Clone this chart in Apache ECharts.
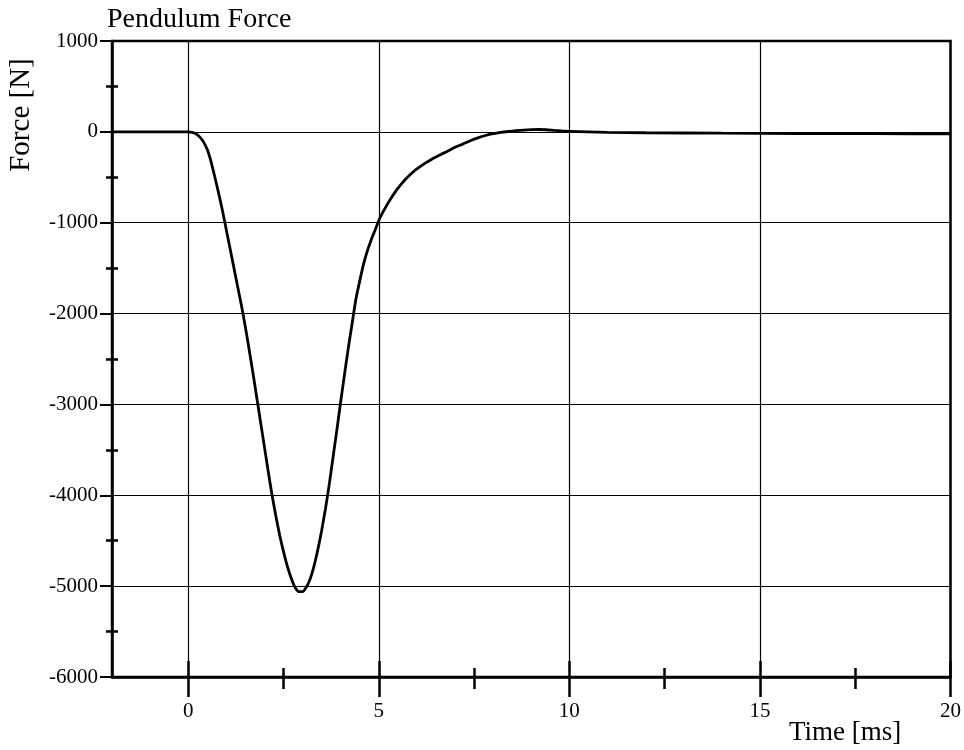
<!DOCTYPE html>
<html>
<head>
<meta charset="utf-8">
<title>Pendulum Force</title>
<script src="https://cdn.jsdelivr.net/npm/echarts@6/dist/echarts.min.js"></script>
<style>
  html, body { margin: 0; padding: 0; background: #fff; }
  #chart { width: 964px; height: 750px; }
</style>
</head>
<body>
<div id="chart"></div>
<script>
// Measured pendulum force over time
const timeMs = [-2, -1, 0, 0.1, 0.2, 0.3, 0.4, 0.5, 0.6, 0.7, 0.8, 0.9, 1.0, 1.1, 1.2, 1.3, 1.4,
  1.5, 1.6, 1.7, 1.8, 1.9, 2.0, 2.1, 2.2, 2.3, 2.4, 2.5, 2.6, 2.7, 2.8, 2.9, 3.0, 3.1, 3.2,
  3.3, 3.4, 3.5, 3.6, 3.7, 3.8, 3.9, 4.0, 4.1, 4.2, 4.3, 4.4, 4.5, 4.6, 4.7, 4.8, 4.9, 5.0,
  5.1, 5.2, 5.3, 5.4, 5.5, 5.6, 5.7, 5.8, 5.9, 6.0, 6.2, 6.4, 6.6, 6.8, 7.0, 7.2, 7.4, 7.6,
  7.8, 8.0, 8.2, 8.4, 8.6, 8.8, 9.0, 9.2, 9.4, 9.6, 9.8, 10, 11, 12, 14, 16, 18, 20];
const forceN = [0, 0, 0, -5, -20, -55, -110, -195, -330, -500, -680, -870, -1080, -1290, -1500, -1710, -1920,
  -2150, -2400, -2660, -2930, -3200, -3470, -3740, -4000, -4230, -4440, -4620, -4780, -4910, -5010, -5060, -5060, -5010, -4920,
  -4780, -4600, -4390, -4150, -3880, -3580, -3280, -2970, -2670, -2380, -2110, -1840, -1640, -1455, -1310, -1190, -1085, -975,
  -890, -815, -745, -680, -622, -570, -522, -480, -442, -408, -350, -298, -254, -214, -170, -135, -98, -66,
  -40, -20, -6, 4, 12, 19, 24, 26, 23, 16, 10, 6, -5, -10, -15, -18, -20, -22];

// Axis ticks
const xMajorTicks = [0, 5, 10, 15, 20];
const xMinorTicks = [2.5, 7.5, 12.5, 17.5];
const yTickStep = 1000;

const serif = 'Liberation Serif';
const ink = '#000';

const chart = echarts.init(document.getElementById('chart'), null, { renderer: 'canvas' });

const xBase = { type: 'value', min: -2, max: 20, position: 'bottom', offset: 0 };
const yBase = { type: 'value', min: -6000, max: 1000, interval: yTickStep, position: 'left', offset: 0 };

// A bare x axis that only contributes tick marks (ticks cross the axis line)
function xTickAxis(values, inside, length) {
  return Object.assign({}, xBase, {
    axisLine: { show: false, onZero: false },
    axisTick: { show: true, inside: inside, length: length, customValues: values, lineStyle: { color: ink, width: 2.5 } },
    axisLabel: { show: false },
    splitLine: { show: false }
  });
}

chart.setOption({
  animation: false,
  backgroundColor: '#fff',
  grid: { left: 112, right: 9, top: 41, bottom: 73, show: true, borderColor: ink, borderWidth: 2.5 },
  graphic: [
    { type: 'text', left: 107, top: 6,
      style: { text: 'Pendulum Force', font: '28px "' + serif + '"', fill: ink } },
    { type: 'text', x: 21, y: 115, rotation: Math.PI / 2,
      style: { text: 'Force [N]', font: '29px "' + serif + '"', fill: ink, align: 'center', verticalAlign: 'middle' } },
    { type: 'text', x: 789, y: 733,
      style: { text: 'Time [ms]', font: '27px "' + serif + '"', fill: ink, align: 'left', verticalAlign: 'middle' } }
  ],
  xAxis: [
    Object.assign({}, xBase, {
      axisLine: { show: true, onZero: false, lineStyle: { color: ink, width: 2.5 } },
      axisTick: { show: false, customValues: xMajorTicks },
      axisLabel: { show: true, customValues: xMajorTicks, margin: 24, color: ink, fontFamily: serif, fontSize: 21 },
      splitLine: { show: true, lineStyle: { color: ink, width: 1.2 } }
    }),
    xTickAxis(xMajorTicks, false, 20),
    xTickAxis(xMajorTicks, true, 16),
    xTickAxis(xMinorTicks, false, 12),
    xTickAxis(xMinorTicks, true, 9)
  ],
  yAxis: [
    Object.assign({}, yBase, {
      axisLine: { show: true, onZero: false, lineStyle: { color: ink, width: 2.5 } },
      axisTick: { show: false },
      axisLabel: { show: true, margin: 14, color: ink, fontFamily: serif, fontSize: 21,
        formatter: (v) => String(v) },
      splitLine: { show: true, lineStyle: { color: ink, width: 1.2 } }
    }),
    Object.assign({}, yBase, {
      axisLine: { show: false, onZero: false },
      axisTick: { show: true, inside: false, length: 12, lineStyle: { color: ink, width: 2 } },
      minorTick: { show: true, splitNumber: 2, length: 6, lineStyle: { color: ink, width: 2.5 } },
      axisLabel: { show: false },
      splitLine: { show: false }
    }),
    Object.assign({}, yBase, {
      axisLine: { show: false, onZero: false },
      axisTick: { show: false, inside: true },
      minorTick: { show: true, splitNumber: 2, length: 6, lineStyle: { color: ink, width: 2.5 } },
      axisLabel: { show: false },
      splitLine: { show: false }
    })
  ],
  series: [{
    name: 'Pendulum Force',
    type: 'line',
    xAxisIndex: 0,
    yAxisIndex: 0,
    data: timeMs.map((t, i) => [t, forceN[i]]),
    smooth: 0.2,
    showSymbol: false,
    lineStyle: { color: ink, width: 2.8 },
    z: 5
  }]
});
</script>
</body>
</html>
